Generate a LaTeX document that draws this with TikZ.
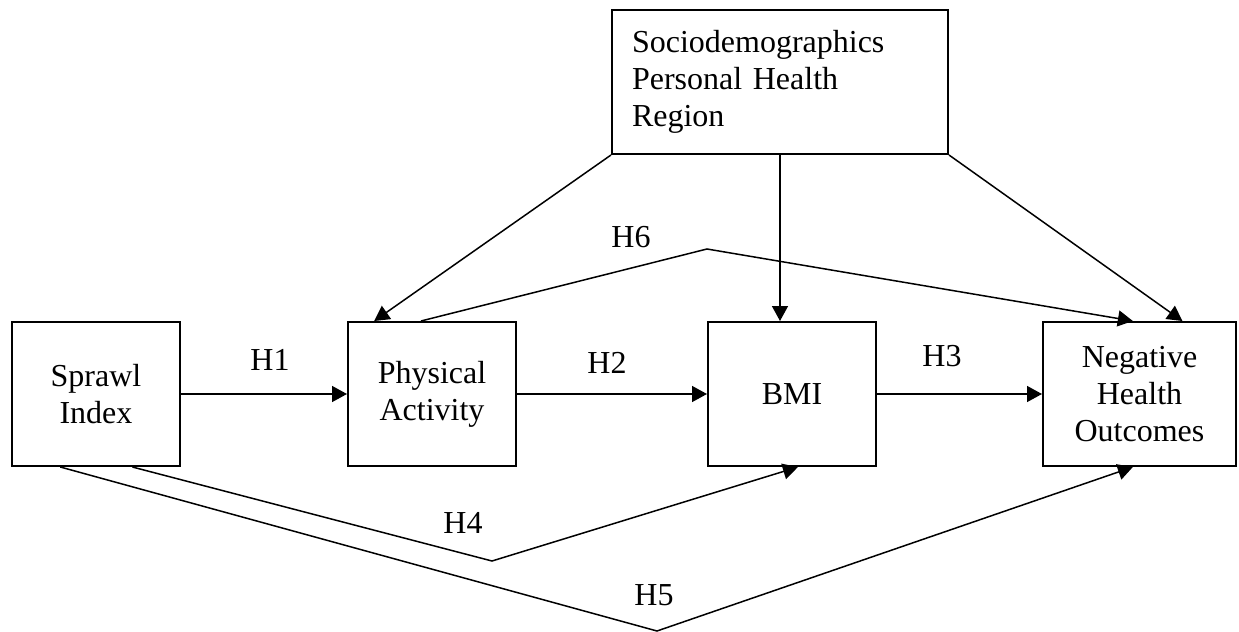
\documentclass[tikz,border=0pt]{standalone}
\usepackage{fontspec}
\setmainfont{Liberation Serif}
\usetikzlibrary{arrows.meta,positioning,calc}

\begin{document}
\begin{tikzpicture}[
    x=0.5pt, y=-0.5pt,
    box/.style={rectangle, draw=black, line width=1pt, minimum width=84pt,
                minimum height=72pt, align=center, inner sep=2pt,
                font=\fontsize{16}{18.5}\selectfont},
    lbl/.style={inner sep=1pt, font=\fontsize{16}{18.5}\selectfont},
    arrow/.style={-{Triangle[length=7.5pt,width=8pt]}, line width=0.75pt, black}
]
\useasboundingbox (0,0) rectangle (1239,632);

\node[box] (sprawl) at (96,394) {Sprawl\\Index};
\node[box, right=83pt of sprawl] (phys) {Physical\\Activity};
\node[box, right=95pt of phys] (bmi) {BMI};
\node[box, minimum width=96.5pt, right=82.5pt of bmi] (nho) {Negative\\Health\\Outcomes};

\node[box, minimum width=168pt, text width=148pt, inner xsep=10pt, align=left]
    (socio) at (780,82) {Sociodemographics\\Personal Health\\Region};

% bend points of the indirect paths
\coordinate (h6bend) at (707,249);
\coordinate (h4bend) at (492,561);
\coordinate (h5bend) at (657,631);

\draw[arrow] (sprawl) -- (phys);
\draw[arrow] (phys) -- (bmi);
\draw[arrow] (bmi.east) -- (nho.west |- bmi.east);

\draw[arrow] (socio.south west) -- ($(phys.north west)!0.16!(phys.north east)$);
\draw[arrow] (socio.south) -- (socio.south |- bmi.north);
\draw[arrow] (socio.south east) -- ($(nho.north west)!0.72!(nho.north east)$);

\draw[arrow] ($(phys.north west)!0.435!(phys.north east)$) -- (h6bend)
    -- ($(nho.north west)!0.466!(nho.north east)$);
\draw[arrow] ($(sprawl.south west)!0.714!(sprawl.south east)$) -- (h4bend)
    -- ($(bmi.south west)!0.535!(bmi.south east)$);
\draw[arrow] ($(sprawl.south west)!0.29!(sprawl.south east)$) -- (h5bend)
    -- ($(nho.south west)!0.466!(nho.south east)$);

\node[lbl] (h1) at (270,360) {H1};
\node[lbl] (h2) at (607,363) {H2};
\node[lbl] (h3) at (942,356) {H3};
\node[lbl] (h4) at (463,523) {H4};
\node[lbl] (h5) at (654,595) {H5};
\node[lbl] (h6) at (631,237) {H6};

\end{tikzpicture}
\end{document}
